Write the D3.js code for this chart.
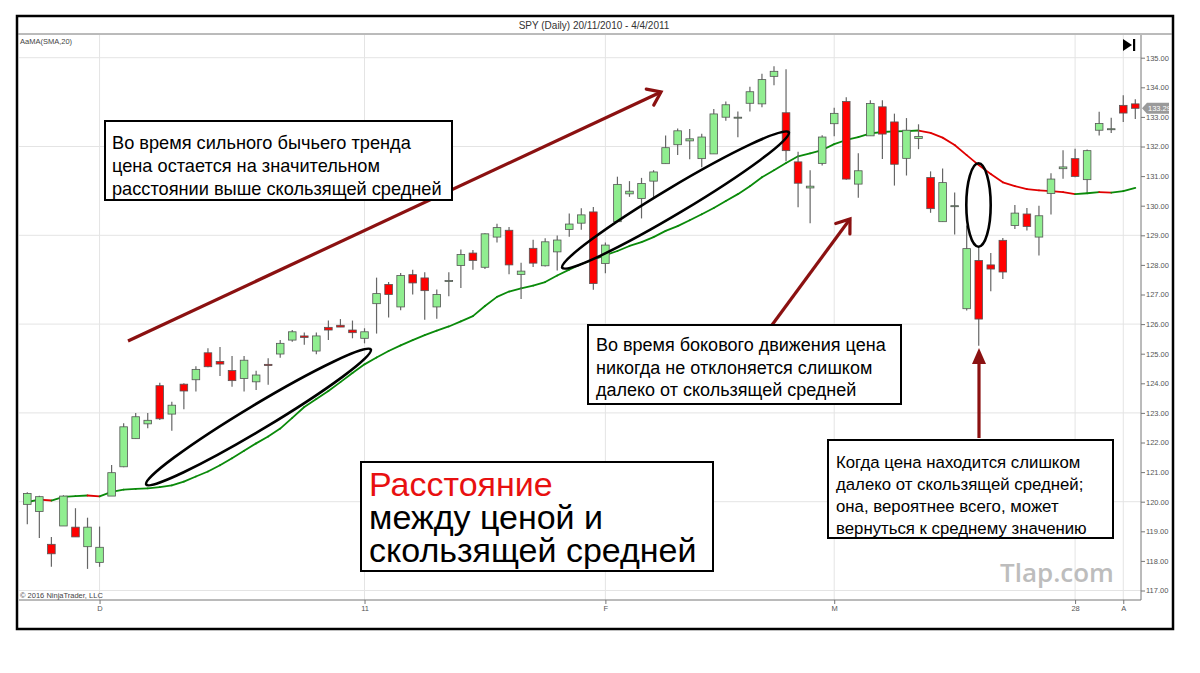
<!DOCTYPE html>
<html>
<head>
<meta charset="utf-8">
<script src="https://cdn.jsdelivr.net/npm/d3@7"></script>
<style>
  body { margin: 0; background: #fff; }
  svg { display: block; font-family: "Liberation Sans", Arial, sans-serif; }
</style>
</head>
<body>
<svg id="chart" width="1200" height="673"></svg>
<script>
// SPY daily, 22 Nov 2010 - 4 Apr 2011
var dates = [
  "2010-11-22","2010-11-23","2010-11-24","2010-11-26","2010-11-29","2010-11-30",
  "2010-12-01","2010-12-02","2010-12-03","2010-12-06","2010-12-07","2010-12-08","2010-12-09","2010-12-10",
  "2010-12-13","2010-12-14","2010-12-15","2010-12-16","2010-12-17","2010-12-20","2010-12-21","2010-12-22",
  "2010-12-23","2010-12-27","2010-12-28","2010-12-29","2010-12-30","2010-12-31",
  "2011-01-03","2011-01-04","2011-01-05","2011-01-06","2011-01-07","2011-01-10","2011-01-11","2011-01-12",
  "2011-01-13","2011-01-14","2011-01-18","2011-01-19","2011-01-20","2011-01-21","2011-01-24","2011-01-25",
  "2011-01-26","2011-01-27","2011-01-28","2011-01-31",
  "2011-02-01","2011-02-02","2011-02-03","2011-02-04","2011-02-07","2011-02-08","2011-02-09","2011-02-10",
  "2011-02-11","2011-02-14","2011-02-15","2011-02-16","2011-02-17","2011-02-18","2011-02-22","2011-02-23",
  "2011-02-24","2011-02-25","2011-02-28",
  "2011-03-01","2011-03-02","2011-03-03","2011-03-04","2011-03-07","2011-03-08","2011-03-09","2011-03-10",
  "2011-03-11","2011-03-14","2011-03-15","2011-03-16","2011-03-17","2011-03-18","2011-03-21","2011-03-22",
  "2011-03-23","2011-03-24","2011-03-25","2011-03-26","2011-03-28","2011-03-29","2011-03-30","2011-03-31",
  "2011-04-01","2011-04-04"
];

var opens = [
  119.91,119.67,118.56,119.18,119.14,118.48,117.95,120.19,121.18,122.13,122.63,123.92,122.96,123.97,124.12,125.03,
  124.74,124.43,124.16,124.05,124.64,124.99,125.46,125.60,125.09,125.89,125.96,125.80,125.52,126.69,127.34,126.58,
  127.67,127.56,126.58,127.46,127.98,128.40,127.92,128.94,129.17,127.68,128.56,127.97,128.44,129.20,129.41,129.79,
  128.05,129.46,130.40,130.24,130.83,131.42,132.06,132.19,131.59,131.75,132.99,132.98,133.46,133.44,134.37,133.14,
  131.48,130.60,131.43,132.77,133.52,130.73,132.36,133.34,132.83,131.60,132.27,130.95,129.46,129.99,126.52,128.15,
  128.00,128.83,129.33,129.72,128.94,130.41,131.25,131.59,130.88,132.55,132.59,133.39,133.44
];
var highs = [
  120.32,120.20,118.81,120.22,119.78,119.46,119.16,121.24,122.65,123.00,123.00,124.02,123.38,124.00,124.58,125.18,
  125.23,124.92,124.92,124.42,124.85,125.46,125.80,125.72,125.72,126.12,126.17,126.12,125.86,127.57,127.42,127.73,
  127.84,127.75,127.17,127.75,128.52,128.50,129.07,129.39,129.28,128.07,128.85,128.90,128.99,129.74,129.91,129.96,
  128.76,130.98,130.83,130.94,131.20,132.37,132.61,132.59,132.43,133.27,133.52,133.18,134.02,134.46,134.71,134.61,
  131.82,131.20,132.38,133.31,133.66,131.77,133.56,133.56,133.11,132.96,132.75,131.16,131.26,130.45,129.33,128.64,
  128.40,128.91,130.02,129.92,130.00,131.10,131.87,131.92,131.90,133.17,132.97,133.73,133.60
];
var lows = [
  119.24,118.77,117.80,119.18,118.81,117.73,117.80,120.19,121.16,122.13,122.48,122.76,122.40,123.12,123.72,124.54,
  124.25,123.88,123.72,123.77,123.95,124.86,125.40,125.30,124.98,125.46,125.90,125.52,125.35,125.68,126.22,126.47,
  127.00,126.15,126.18,126.94,127.22,127.84,127.86,128.76,127.68,126.85,127.93,127.95,127.81,128.95,129.19,127.16,
  127.72,129.46,130.30,129.57,130.24,131.42,131.71,131.57,131.30,131.75,132.87,132.31,133.18,133.33,134.07,131.50,
  129.95,129.41,131.36,132.35,130.88,130.27,132.36,131.58,130.68,131.02,131.91,129.76,129.46,129.03,126.46,125.27,
  127.11,127.52,129.21,129.16,128.32,129.70,130.91,130.96,130.46,132.37,132.46,132.83,132.93
];
var closes = [
  120.28,120.17,118.24,120.19,118.81,119.14,118.46,120.98,122.53,122.87,122.75,122.80,123.26,123.74,124.47,124.56,
  124.65,124.09,124.78,124.28,124.60,125.35,125.74,125.55,125.60,125.80,125.90,125.71,125.74,127.03,127.00,127.64,
  127.39,127.13,127.00,127.47,128.35,128.15,129.05,129.26,128.00,127.79,128.06,128.78,128.84,129.38,129.69,127.37,
  128.67,130.72,130.49,130.75,131.14,131.96,132.53,132.26,132.32,133.10,133.41,132.99,133.85,134.26,134.54,131.86,
  130.76,130.66,132.32,133.12,130.90,131.18,133.45,132.42,131.40,132.55,132.34,129.90,130.78,130.00,128.55,126.17,
  127.86,127.76,129.75,129.30,129.66,130.90,131.31,130.99,131.86,132.78,132.60,133.13,133.29
];
// SMA(20) as drawn on the chart
var sma20 = [
  119.99,120.07,120.04,120.16,120.19,120.21,120.18,120.33,120.41,120.43,120.45,120.49,120.55,120.68,120.85,121.02,
  121.23,121.47,121.72,121.97,122.20,122.47,122.83,123.20,123.47,123.74,124.04,124.35,124.64,124.87,125.09,125.28,
  125.46,125.63,125.78,125.92,126.09,126.27,126.61,126.92,127.10,127.21,127.30,127.42,127.64,127.84,128.03,128.18,
  128.33,128.47,128.64,128.77,128.94,129.15,129.31,129.51,129.71,129.92,130.16,130.39,130.66,130.96,131.20,131.44,
  131.67,131.77,131.88,132.08,132.22,132.32,132.44,132.49,132.51,132.52,132.54,132.46,132.30,132.05,131.71,131.37,
  131.07,130.79,130.66,130.56,130.52,130.49,130.46,130.39,130.42,130.46,130.44,130.49,130.60
];

var yTicks = [117,118,119,120,121,122,123,124,125,126,127,128,129,130,131,132,133,134,135];
var yGrid = [117,120,123,126,129,132,135];
var xTickDates = ["2010-12-01","2011-01-03","2011-02-01","2011-03-01","2011-03-28","2011-04-01"];
var xTickLabels = ["D","11","F","M","28","A"];
var lastPrice = 133.29;

var svg = d3.select("svg#chart");

var x = d3.scalePoint().domain(dates).range([27.3, 1135.3]);
var y = d3.scaleLinear().domain([117, 135]).range([590.5, 57.7]);

var plotLeft = 19, plotRight = 1141, plotTop = 35, plotBottom = 600;

// frame + title bar
svg.append("rect").attr("x", 17).attr("y", 16).attr("width", 1156).attr("height", 613)
  .attr("fill", "#fff").attr("stroke", "#000").attr("stroke-width", 2.5);
svg.append("line").attr("x1", 18).attr("x2", 1172).attr("y1", plotTop - 1).attr("y2", plotTop - 1)
  .attr("stroke", "#777").attr("stroke-width", 1);
svg.append("text").attr("x", 594).attr("y", 29).attr("text-anchor", "middle")
  .attr("font-size", 10).attr("fill", "#333").text("SPY (Daily)  20/11/2010 - 4/4/2011");

// grid
var grid = svg.append("g").attr("class", "grid");
grid.selectAll("line.h").data(yGrid).enter().append("line")
  .attr("x1", plotLeft).attr("x2", plotRight)
  .attr("y1", d => y(d)).attr("y2", d => y(d))
  .attr("stroke", "#e4e4e4");
grid.selectAll("line.v").data(xTickDates).enter().append("line")
  .attr("x1", d => x(d)).attr("x2", d => x(d))
  .attr("y1", plotTop).attr("y2", plotBottom)
  .attr("stroke", "#e4e4e4");

svg.append("text").attr("x", 20).attr("y", 44).attr("font-size", 7.5).attr("fill", "#444").text("AaMA(SMA,20)");
svg.append("text").attr("x", 20).attr("y", 598).attr("font-size", 7.5).attr("fill", "#444").text("\u00A9 2016 NinjaTrader, LLC");

// axes
var yAxis = d3.axisRight(y).tickValues(yTicks).tickFormat(d3.format(".2f")).tickSize(4).tickSizeOuter(0);
var yG = svg.append("g").attr("id", "y-axis").attr("transform", "translate(" + plotRight + ",0)").call(yAxis);
yG.select(".domain").attr("d", "M0," + plotTop + "V" + plotBottom).attr("stroke", "#777");
yG.selectAll(".tick line").attr("stroke", "#777");
yG.selectAll(".tick text").attr("font-size", 7.5).attr("fill", "#555").attr("x", 5)
  .attr("font-family", "\"Liberation Sans\", Arial, sans-serif");

var xAxis = d3.axisBottom(x).tickValues(xTickDates)
  .tickFormat((d, i) => xTickLabels[i]).tickSize(4).tickSizeOuter(0);
var xG = svg.append("g").attr("id", "x-axis").attr("transform", "translate(0," + plotBottom + ")").call(xAxis);
xG.select(".domain").attr("d", "M" + plotLeft + ",0H" + plotRight).attr("stroke", "#777");
xG.selectAll(".tick line").attr("stroke", "#777");
xG.selectAll(".tick text").attr("font-size", 7.5).attr("fill", "#555").attr("y", 6)
  .attr("font-family", "\"Liberation Sans\", Arial, sans-serif");

// SMA line, coloured by direction
var smaG = svg.append("g").attr("class", "sma");
smaG.selectAll("line").data(d3.range(1, dates.length)).enter().append("line")
  .attr("x1", i => x(dates[i - 1])).attr("y1", i => y(sma20[i - 1]))
  .attr("x2", i => x(dates[i])).attr("y2", i => y(sma20[i]))
  .attr("stroke", i => sma20[i] >= sma20[i - 1] ? "#0a8a0a" : "#e00000")
  .attr("stroke-width", 1.8).attr("stroke-linecap", "round");

// candles
var bars = dates.map((d, i) => ({date: d, o: opens[i], h: highs[i], l: lows[i], c: closes[i]}));
var candle = svg.append("g").attr("class", "candles").selectAll("g").data(bars).enter().append("g");
candle.append("line")
  .attr("x1", d => x(d.date)).attr("x2", d => x(d.date))
  .attr("y1", d => y(d.h)).attr("y2", d => y(d.l))
  .attr("stroke", "#666").attr("stroke-width", 1.2);
candle.append("rect")
  .attr("x", d => x(d.date) - 3.8).attr("width", 7.6)
  .attr("y", d => y(Math.max(d.o, d.c)))
  .attr("height", d => Math.max(1, Math.abs(y(d.o) - y(d.c))))
  .attr("fill", d => d.c >= d.o ? "#90ee90" : "#ff0000")
  .attr("stroke", "#555").attr("stroke-width", 0.8);

// last price marker and scroll button
var ly = y(lastPrice);
svg.append("path")
  .attr("d", "M" + (plotRight + 1) + "," + ly + "L" + (plotRight + 6) + "," + (ly - 5.5) + "H1169V" + (ly + 5.5) + "H" + (plotRight + 6) + "Z")
  .attr("fill", "#9a9a9a");
svg.append("text").attr("x", plotRight + 7).attr("y", ly + 3).attr("font-size", 7.5).attr("fill", "#fff").text("133.29");
svg.append("path").attr("d", "M1123,39L1132,45L1123,51Z").attr("fill", "#000");
svg.append("rect").attr("x", 1133).attr("y", 39).attr("width", 2.2).attr("height", 12).attr("fill", "#000");

// ellipses
var ell = [
  {cx: 258.5, cy: 417, rx: 131, ry: 12.5, a: -31},
  {cx: 675.5, cy: 200, rx: 132, ry: 13, a: -30.9},
  {cx: 978.5, cy: 205, rx: 12.2, ry: 41.7, a: 0}
];
svg.selectAll("ellipse.mark").data(ell).enter().append("ellipse")
  .attr("transform", d => "translate(" + d.cx + "," + d.cy + ") rotate(" + d.a + ")")
  .attr("rx", d => d.rx).attr("ry", d => d.ry)
  .attr("fill", "none").attr("stroke", "#000").attr("stroke-width", 2.6);

// arrows
var arrowColor = "#8b1111";
function chevron(x1, y1, x2, y2, size) {
  var ang = Math.atan2(y2 - y1, x2 - x1);
  var a1 = ang + Math.PI * 0.8, a2 = ang - Math.PI * 0.8;
  return "M" + (x2 + size * Math.cos(a1)) + "," + (y2 + size * Math.sin(a1)) +
    "L" + x2 + "," + y2 + "L" + (x2 + size * Math.cos(a2)) + "," + (y2 + size * Math.sin(a2));
}
var arrows = [
  {x1: 128, y1: 341, x2: 661, y2: 92},
  {x1: 772, y1: 325, x2: 850, y2: 219}
];
arrows.forEach(function(a) {
  svg.append("line").attr("x1", a.x1).attr("y1", a.y1).attr("x2", a.x2).attr("y2", a.y2)
    .attr("stroke", arrowColor).attr("stroke-width", 3.2);
  svg.append("path").attr("d", chevron(a.x1, a.y1, a.x2, a.y2, 15))
    .attr("fill", "none").attr("stroke", arrowColor).attr("stroke-width", 3.2).attr("stroke-linecap", "round");
});
svg.append("line").attr("x1", 979).attr("y1", 438).attr("x2", 979).attr("y2", 360)
  .attr("stroke", arrowColor).attr("stroke-width", 3.2);
svg.append("path").attr("d", "M972,364L979,348L986,364Z").attr("fill", arrowColor);

// text boxes
function textBox(x0, y0, w, h, lines, size, tx, ty, dy) {
  svg.append("rect").attr("x", x0).attr("y", y0).attr("width", w).attr("height", h)
    .attr("fill", "#fff").attr("stroke", "#000").attr("stroke-width", 2);
  var t = svg.append("text").attr("font-size", size).attr("fill", "#000");
  lines.forEach(function(l, i) {
    t.append("tspan").attr("x", tx).attr("y", ty + i * dy).attr("fill", l.color || "#000")
      .attr("font-size", l.size || size).text(l.text);
  });
}
textBox(105, 121, 347, 79, [
  {text: "Во время сильного бычьего тренда"},
  {text: "цена остается на значительном"},
  {text: "расстоянии выше скользящей средней"}
], 18.2, 112, 149, 23);
textBox(588, 325, 313, 79, [
  {text: "Во время бокового движения цена"},
  {text: "никогда не отклоняется слишком"},
  {text: "далеко от скользящей средней"}
], 18, 596, 351, 22.5);
textBox(828, 440, 285, 98, [
  {text: "Когда цена находится слишком"},
  {text: "далеко от скользящей средней;"},
  {text: "она, вероятнее всего, может"},
  {text: "вернуться к среднему значению"}
], 16.8, 836, 468, 22);
textBox(361, 462, 352, 109, [
  {text: "Расстояние", color: "#e81010"},
  {text: "между ценой и"},
  {text: "скользящей средней"}
], 34, 369, 496, 33);

svg.append("text").attr("x", 1000).attr("y", 582).attr("font-size", 26).attr("fill", "#bdbdbd")
  .attr("font-family", "\"Open Sans\", sans-serif").attr("font-weight", 600).text("Tlap.com");
</script>
</body>
</html>
